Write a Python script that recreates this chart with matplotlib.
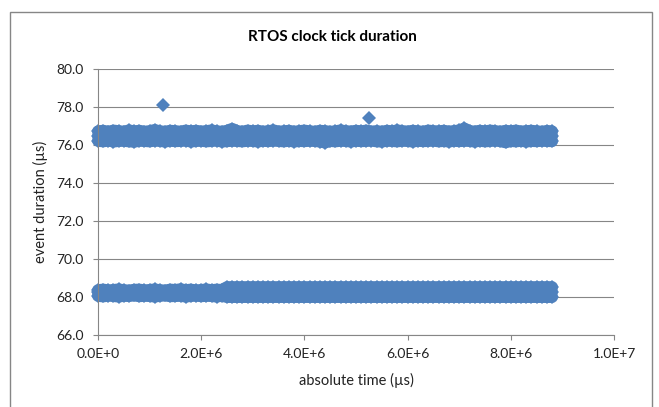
import matplotlib
matplotlib.use("Agg")
import matplotlib.pyplot as plt
from matplotlib.patches import Rectangle
import numpy as np

plt.rcParams['font.family'] = ['Lato', 'DejaVu Sans']

# sample times of the plotted ticks (s), one column of the band every 0.1 s
sample_time_s = [
    0.0, 0.1, 0.2, 0.3, 0.4, 0.5, 0.6, 0.7, 0.8, 0.9,
    1.0, 1.1, 1.2, 1.3, 1.4, 1.5, 1.6, 1.7, 1.8, 1.9,
    2.0, 2.1, 2.2, 2.3, 2.4, 2.5, 2.6, 2.7, 2.8, 2.9,
    3.0, 3.1, 3.2, 3.3, 3.4, 3.5, 3.6, 3.7, 3.8, 3.9,
    4.0, 4.1, 4.2, 4.3, 4.4, 4.5, 4.6, 4.7, 4.8, 4.9,
    5.0, 5.1, 5.2, 5.3, 5.4, 5.5, 5.6, 5.7, 5.8, 5.9,
    6.0, 6.1, 6.2, 6.3, 6.4, 6.5, 6.6, 6.7, 6.8, 6.9,
    7.0, 7.1, 7.2, 7.3, 7.4, 7.5, 7.6, 7.7, 7.8, 7.9,
    8.0, 8.1, 8.2, 8.3, 8.4, 8.5, 8.6, 8.7, 8.8,
]

# upper band (long ticks): highest / lowest durations seen per column (us)
upper_top = [
    76.72, 76.75, 76.70, 76.76, 76.73, 76.70, 76.77, 76.72, 76.75, 76.70,
    76.73, 76.79, 76.72, 76.70, 76.75, 76.73, 76.70, 76.76, 76.72, 76.75,
    76.71, 76.73, 76.77, 76.72, 76.70, 76.75, 76.85, 76.73, 76.70, 76.76,
    76.72, 76.75, 76.70, 76.73, 76.77, 76.71, 76.72, 76.75, 76.70, 76.73,
    76.76, 76.72, 76.70, 76.75, 76.73, 76.70, 76.72, 76.77, 76.73, 76.71,
    76.75, 76.72, 76.76, 76.71, 76.73, 76.70, 76.75, 76.72, 76.77, 76.73,
    76.71, 76.75, 76.72, 76.70, 76.76, 76.73, 76.72, 76.75, 76.71, 76.73,
    76.77, 76.87, 76.73, 76.71, 76.75, 76.72, 76.76, 76.73, 76.70, 76.75,
    76.72, 76.76, 76.71, 76.73, 76.75, 76.72, 76.70, 76.74, 76.72,
]
upper_bottom = [
    76.22, 76.19, 76.23, 76.18, 76.21, 76.22, 76.19, 76.17, 76.22, 76.21,
    76.19, 76.23, 76.21, 76.18, 76.22, 76.20, 76.21, 76.23, 76.18, 76.21,
    76.22, 76.19, 76.21, 76.23, 76.18, 76.20, 76.22, 76.21, 76.19, 76.22,
    76.21, 76.18, 76.22, 76.20, 76.23, 76.21, 76.19, 76.22, 76.18, 76.21,
    76.20, 76.22, 76.21, 76.18, 76.13, 76.21, 76.19, 76.22, 76.21, 76.18,
    76.22, 76.20, 76.21, 76.23, 76.19, 76.18, 76.22, 76.21, 76.19, 76.22,
    76.21, 76.18, 76.22, 76.20, 76.21, 76.23, 76.19, 76.21, 76.18, 76.22,
    76.20, 76.22, 76.21, 76.18, 76.22, 76.19, 76.21, 76.23, 76.20, 76.14,
    76.21, 76.19, 76.22, 76.18, 76.21, 76.20, 76.22, 76.21, 76.20,
]
upper_typical = 76.47

# lower band (short ticks)
lower_top = [
    68.36, 68.39, 68.35, 68.37, 68.40, 68.36, 68.34, 68.38, 68.39, 68.35,
    68.37, 68.40, 68.36, 68.34, 68.39, 68.37, 68.41, 68.36, 68.39, 68.35,
    68.37, 68.40, 68.36, 68.39, 68.37, 68.52, 68.52, 68.52, 68.52, 68.52,
    68.52, 68.52, 68.52, 68.52, 68.52, 68.52, 68.52, 68.52, 68.52, 68.52,
    68.52, 68.52, 68.52, 68.52, 68.52, 68.52, 68.52, 68.52, 68.52, 68.52,
    68.52, 68.52, 68.52, 68.52, 68.52, 68.52, 68.52, 68.52, 68.52, 68.52,
    68.52, 68.52, 68.52, 68.52, 68.52, 68.52, 68.52, 68.52, 68.52, 68.52,
    68.52, 68.52, 68.52, 68.52, 68.52, 68.52, 68.52, 68.52, 68.52, 68.52,
    68.52, 68.52, 68.52, 68.52, 68.52, 68.52, 68.52, 68.52, 68.52,
]
lower_bottom = [
    68.06, 68.03, 68.07, 68.05, 68.02, 68.06, 68.05, 68.08, 68.04, 68.06,
    68.05, 68.02, 68.06, 68.08, 68.04, 68.05, 68.06, 68.02, 68.05, 68.07,
    68.04, 68.06, 68.05, 68.02, 68.06, 68.00, 68.00, 68.00, 68.00, 68.00,
    68.00, 68.00, 68.00, 68.00, 68.00, 68.00, 68.00, 68.00, 68.00, 68.00,
    68.00, 68.00, 68.00, 68.00, 68.00, 68.00, 68.00, 68.00, 68.00, 68.00,
    68.00, 68.00, 68.00, 68.00, 68.00, 68.00, 68.00, 68.00, 68.00, 68.00,
    68.00, 68.00, 68.00, 68.00, 68.00, 68.00, 68.00, 68.00, 68.00, 68.00,
    68.00, 68.00, 68.00, 68.00, 68.00, 68.00, 68.00, 68.00, 68.00, 68.00,
    68.00, 68.00, 68.00, 68.00, 68.00, 68.00, 68.00, 68.00, 68.00,
]
lower_typical = 68.24

# isolated long ticks
outlier_time_us = [1.26e6, 5.25e6]
outlier_duration = [78.1, 77.42]

y_ticks = [66.0, 68.0, 70.0, 72.0, 74.0, 76.0, 78.0, 80.0]
x_ticks = [0, 2e6, 4e6, 6e6, 8e6, 1e7]
x_tick_labels = ['0.0E+0', '2.0E+6', '4.0E+6', '6.0E+6', '8.0E+6', '1.0E+7']

blue = '#4F81BD'
gray = '#868686'

fig = plt.figure(figsize=(6.59, 4.07), dpi=100)
ax = fig.add_axes([98 / 659, 1 - 335 / 407, 516 / 659, 266 / 407])

t = np.array(sample_time_s) * 1e6
mk = dict(ls='none', marker='D', ms=6.8, color=blue, mec=blue, mew=0, clip_on=False)
# the thousands of overlapping diamonds merge into a solid band:
# draw each row as a thick stroke, with the diamonds on top giving the ragged edge
band = dict(ls='-', lw=8.6, color=blue, solid_capstyle='round', clip_on=False)
rows = [upper_top, upper_bottom, [upper_typical] * len(t),
        lower_top, lower_bottom, [lower_typical] * len(t)]
for row in rows:
    ax.plot(t, row, **band)
    ax.plot(t, row, **mk)
ax.plot(outlier_time_us, outlier_duration, **mk)

ax.set_xlim(0, 1e7)
ax.set_ylim(66, 80)
ax.set_yticks(y_ticks)
ax.set_yticklabels([f'{v:.1f}' for v in y_ticks])
ax.set_xticks(x_ticks)
ax.set_xticklabels(x_tick_labels)
ax.tick_params(length=3.6, width=0.8, color=gray, labelsize=10, labelcolor='#222222')
ax.tick_params(axis='y', pad=6.5)
ax.tick_params(axis='x', pad=6)

ax.grid(axis='y', color=gray, lw=0.8)
ax.set_axisbelow(True)
for s in ('top', 'right'):
    ax.spines[s].set_visible(False)
for s in ('left', 'bottom'):
    ax.spines[s].set_color(gray)
    ax.spines[s].set_linewidth(0.8)

ax.set_xlabel('absolute time (µs)', fontsize=10.5, color='#222222', labelpad=9)
ax.set_ylabel('event duration (µs)', fontsize=10.5, color='#222222', labelpad=6)
fig.text(332 / 659, 1 - 37 / 407, 'RTOS clock tick duration', ha='center', va='center',
         fontsize=11, fontweight='bold')

# chart area border
fig.patches.append(Rectangle((10 / 659, -0.05), 642 / 659, 1.05 - 12 / 407,
                             transform=fig.transFigure, fill=False, ec=gray, lw=1))

fig.savefig('out.png', dpi=100)
